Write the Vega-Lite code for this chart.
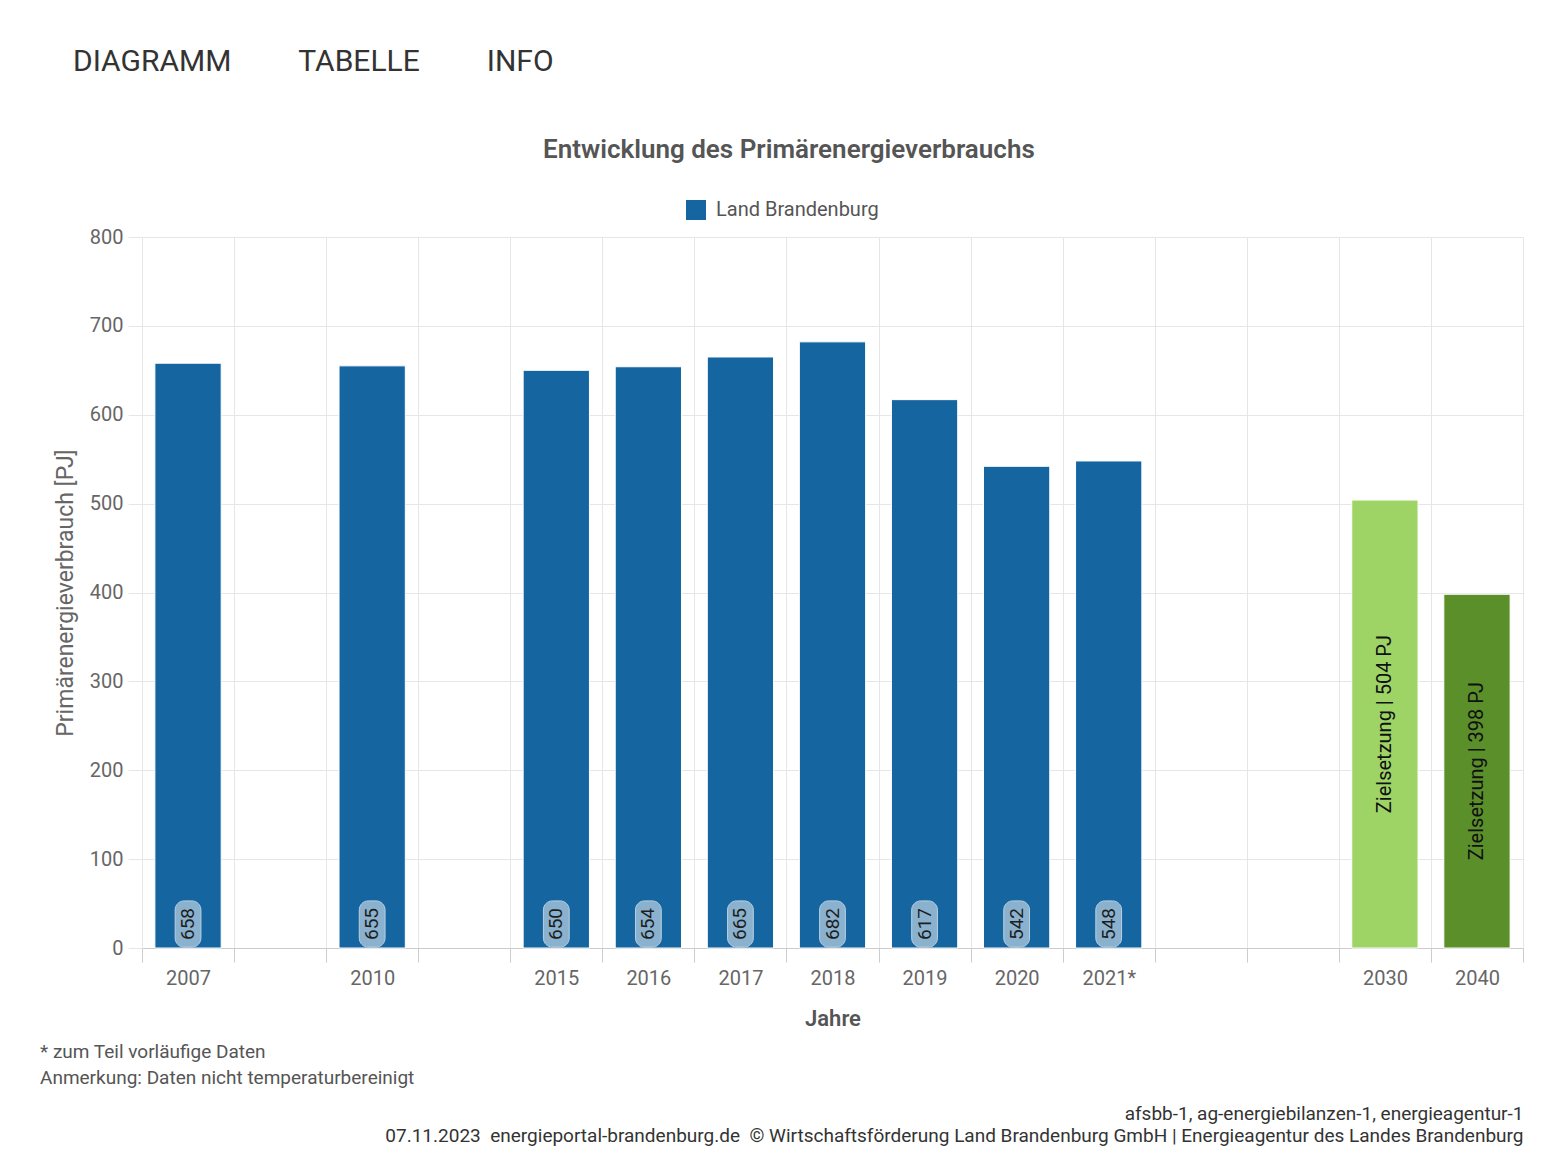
{
  "$schema": "https://vega.github.io/schema/vega-lite/v6.json",
  "background": "white",
  "padding": {"left": 40, "top": 47, "right": 10, "bottom": 10},
  "title": {"text": "DIAGRAMM\u00a0\u00a0\u00a0\u00a0\u00a0\u00a0\u00a0\u00a0\u00a0TABELLE\u00a0\u00a0\u00a0\u00a0\u00a0\u00a0\u00a0\u00a0\u00a0INFO", "anchor": "start", "frame": "bounds", "fontSize": 30, "fontWeight": "normal", "color": "#333333", "dx": 33, "offset": 60},
  "config": {
    "font": "Roboto",
    "view": {"stroke": null},
    "axisY": {"tickCount": 8, "grid": true, "gridColor": "#e6e6e6", "domain": false, "tickColor": "#e6e6e6", "tickSize": 14, "labelFontSize": 20, "labelColor": "#666666", "labelPadding": 5, "titleFontSize": 23, "titleFontWeight": "normal", "titleColor": "#666666", "titlePadding": 12}
  },
  "spacing": 13,
  "datasets": {
    "energie": [
      {"year": "2007", "value": 658, "kind": "ist"},
      {"year": "2010", "value": 655, "kind": "ist"},
      {"year": "2015", "value": 650, "kind": "ist"},
      {"year": "2016", "value": 654, "kind": "ist"},
      {"year": "2017", "value": 665, "kind": "ist"},
      {"year": "2018", "value": 682, "kind": "ist"},
      {"year": "2019", "value": 617, "kind": "ist"},
      {"year": "2020", "value": 542, "kind": "ist"},
      {"year": "2021*", "value": 548, "kind": "ist"},
      {"year": "2030", "value": 504, "kind": "ziel"},
      {"year": "2040", "value": 398, "kind": "ziel"}
    ]
  },
  "vconcat": [
    {
      "width": 1381,
      "height": 711,
      "title": {"text": "Entwicklung des Primärenergieverbrauchs", "fontSize": 26, "fontWeight": 600, "color": "#555555", "anchor": "middle", "frame": "bounds", "offset": 37},
      "data": {"name": "energie"},
      "encoding": {
        "x": {
          "field": "year", "type": "nominal",
          "scale": {"domain": ["2007", " ", "2010", "  ", "2015", "2016", "2017", "2018", "2019", "2020", "2021*", "   ", "    ", "2030", "2040"], "paddingInner": 0, "paddingOuter": 0},
          "axis": {"tickBand": "extent", "grid": true, "gridColor": "#e6e6e6", "domainColor": "#cccccc", "tickColor": "#cccccc", "tickSize": 14, "labelAngle": 0, "labelFontSize": 20, "labelColor": "#666666", "labelPadding": 6, "title": "Jahre", "titleFontSize": 22, "titleFontWeight": 600, "titleColor": "#555555", "titlePadding": 20}
        }
      },
      "layer": [
        {
          "transform": [{"filter": "datum.kind === 'ist'"}],
          "mark": {"type": "bar", "width": {"band": 0.72}, "stroke": "#ffffff", "strokeWidth": 1},
          "encoding": {
            "y": {"field": "value", "type": "quantitative", "scale": {"domain": [0, 800]}, "title": "Primärenergieverbrauch [PJ]"},
            "color": {"datum": "Land Brandenburg", "type": "nominal", "scale": {"range": ["#1565a0"]},
              "legend": {"title": null, "orient": "none", "legendX": 544, "legendY": -37, "symbolType": "square", "symbolSize": 400, "symbolStrokeWidth": 0, "labelFontSize": 20, "labelColor": "#555555", "labelOffset": 10, "labelLimit": 400}}
          }
        },
        {
          "transform": [{"filter": "datum.kind === 'ziel'"}],
          "mark": {"type": "bar", "width": {"band": 0.72}, "stroke": "#ffffff", "strokeWidth": 1},
          "encoding": {
            "y": {"field": "value", "type": "quantitative", "title": "Primärenergieverbrauch [PJ]"},
            "color": {"field": "year", "type": "nominal", "scale": {"domain": ["2030", "2040"], "range": ["#9ed466", "#5b8f2a"]}, "legend": null}
          }
        },
        {
          "transform": [{"filter": "datum.kind === 'ist'"}],
          "mark": {"type": "bar", "width": {"band": 0.28}, "cornerRadius": 9, "fill": "#8ab2cf", "stroke": "#b9cfe2", "strokeWidth": 1},
          "encoding": {
            "y": {"datum": 53, "type": "quantitative", "title": "Primärenergieverbrauch [PJ]"},
            "y2": {"datum": 1}
          }
        },
        {
          "transform": [{"filter": "datum.kind === 'ist'"}],
          "mark": {"type": "text", "angle": 270, "align": "center", "baseline": "middle", "fontSize": 19, "color": "#1e1e1e"},
          "encoding": {
            "y": {"datum": 27, "type": "quantitative", "title": "Primärenergieverbrauch [PJ]"},
            "text": {"field": "value", "type": "quantitative"}
          }
        },
        {
          "transform": [
            {"filter": "datum.kind === 'ziel'"},
            {"calculate": "datum.value / 2", "as": "mid"},
            {"calculate": "'Zielsetzung | ' + datum.value + ' PJ'", "as": "label"}
          ],
          "mark": {"type": "text", "angle": 270, "align": "center", "baseline": "middle", "fontSize": 20, "color": "#111111"},
          "encoding": {
            "y": {"field": "mid", "type": "quantitative", "title": "Primärenergieverbrauch [PJ]"},
            "text": {"field": "label", "type": "nominal"}
          }
        }
      ],
      "resolve": {"scale": {"color": "independent"}}
    },
    {
      "width": 1381,
      "height": 1,
      "data": {"values": [{}]},
      "mark": {"type": "text"},
      "encoding": {
        "text": {"value": ""},
        "x": {"datum": 0, "type": "quantitative", "scale": {"domain": [0, 1]},
          "axis": {"orient": "bottom", "domain": false, "ticks": false, "labels": false, "grid": false,
            "title": ["afsbb-1, ag-energiebilanzen-1, energieagentur-1", "07.11.2023\u00a0\u00a0energieportal-brandenburg.de\u00a0\u00a0© Wirtschaftsförderung Land Brandenburg GmbH | Energieagentur des Landes Brandenburg"],
            "titleAnchor": "end", "titleAlign": "right", "titleFontSize": 19, "titleFontWeight": "normal", "titleColor": "#333333", "titleLineHeight": 22, "titlePadding": 10}}
      },
      "title": {"text": ["* zum Teil vorläufige Daten", "Anmerkung: Daten nicht temperaturbereinigt"], "anchor": "start", "frame": "group", "dx": -102, "fontSize": 19, "fontWeight": "normal", "color": "#555555", "lineHeight": 26, "offset": 0}
    }
  ]
}
